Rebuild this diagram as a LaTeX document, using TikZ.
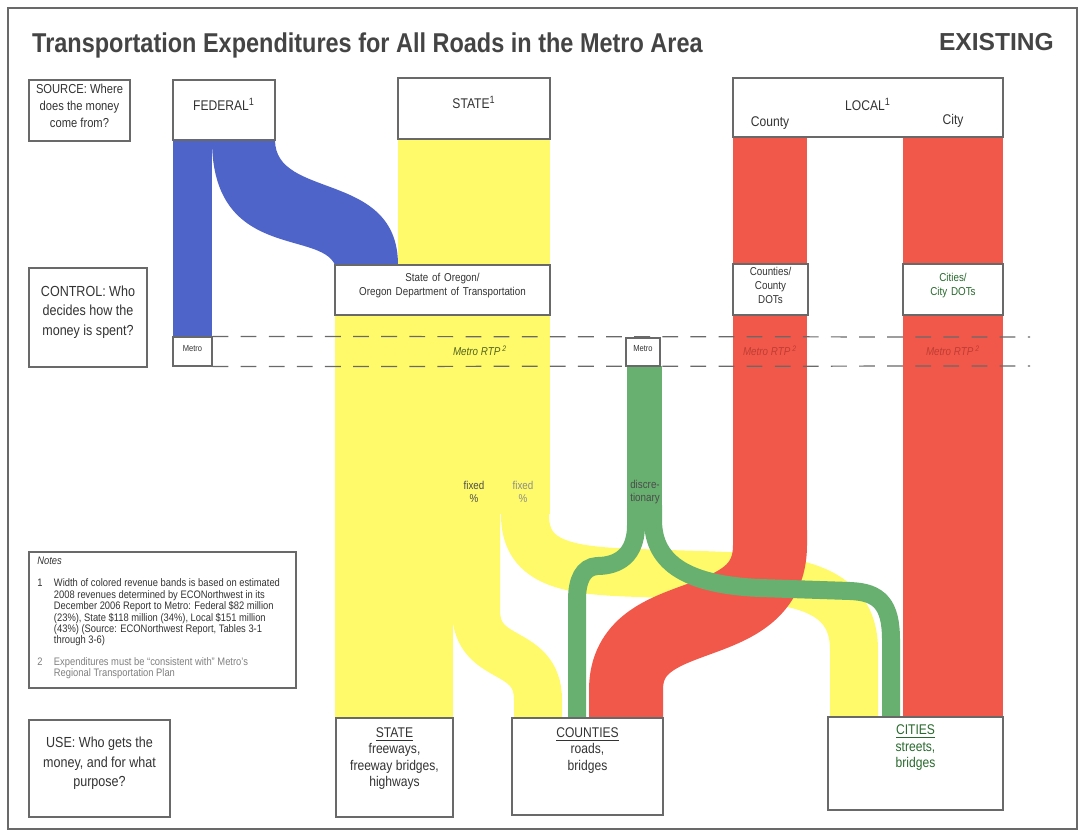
\documentclass[tikz,border=0pt]{standalone}
\usepackage{fontspec}
\setmainfont[FakeStretch=0.86]{Liberation Sans}
\newfontfamily\headfont[FakeStretch=0.862]{Liberation Sans}
\newfontfamily\widefont{Liberation Sans}
\usetikzlibrary{positioning,fit}

\definecolor{fedblue}{RGB}{78,100,200}
\definecolor{stateyel}{RGB}{255,250,105}
\definecolor{localred}{RGB}{242,88,74}
\definecolor{metrogreen}{RGB}{104,176,112}
\definecolor{boxgray}{RGB}{105,105,105}
\definecolor{titlegray}{RGB}{68,68,68}
\definecolor{citygreen}{RGB}{40,105,45}
\definecolor{rtpolive}{RGB}{85,100,30}
\definecolor{rtpred}{RGB}{190,62,52}

\begin{document}
\begin{tikzpicture}[x=0.02cm,y=-0.02cm,font=\fontsize{8}{10}\selectfont,text=black!80]
  \tikzstyle{box}=[draw=boxgray,fill=white,line width=0.6pt,inner sep=0pt,align=center]
  \tikzstyle{small}=[font=\fontsize{6.5}{7.8}\selectfont,align=center]
  \tikzstyle{tiny}=[font=\fontsize{5}{6}\selectfont]
  \tikzstyle{rtp}=[font=\fontsize{6.5}{8}\selectfont\itshape]
  \tikzstyle{rtpline}=[boxgray,line width=0.7pt,dash pattern=on 9pt off 7pt]
  \tikzstyle{usetext}=[inner sep=0pt,align=center,font=\fontsize{8}{9.4}\selectfont]

  \useasboundingbox (0,0) rectangle (1081,832);
  \draw[boxgray,line width=1.2pt] (8,8) rectangle (1077,829);

  \node[anchor=west,text=titlegray,font={\headfont\bfseries\fontsize{15.5}{17}\selectfont}] (title) at (26,45)
    {Transportation Expenditures for All Roads in the Metro Area};
  \node[anchor=east,text=titlegray,font={\widefont\bfseries\fontsize{14}{16}\selectfont}] (exist) at (1060,42) {EXISTING};

  % state
  \fill[stateyel] (398,139) rectangle (550,266);
  \fill[stateyel] (335,314) rectangle (550,514);
  \fill[stateyel] (335,514) rectangle (453,720);
  \draw[stateyel,line width=0.96cm] (476,505) -- (476,610) .. controls (476,665) and (538,645) .. (538,700) -- (538,720);
  \draw[stateyel,line width=0.96cm] (525,505) -- (525,515) .. controls (525,565) and (570,571) .. (640,573)
    .. controls (760,578) and (854,570) .. (854,650) -- (854,720);

  % local
  \fill[localred] (733,137) rectangle (807,545);
  \draw[localred,line width=1.48cm] (770,530) -- (770,545) .. controls (770,640) and (626,600) .. (626,690) -- (626,720);
  \fill[localred] (903,137) rectangle (1003,720);

  % metro
  \fill[metrogreen] (627,366) rectangle (662,525);
  \draw[metrogreen,line width=0.36cm] (636,505) -- (636,525) .. controls (636,562) and (610,566) .. (597,566)
    .. controls (583,567) and (577,580) .. (577,600) -- (577,720);
  \draw[metrogreen,line width=0.36cm] (653,505) -- (653,520) .. controls (653,565) and (690,585) .. (760,588)
    -- (850,591) .. controls (880,592) and (891,605) .. (891,640) -- (891,720);

  % federal
  \fill[fedblue] (173,140) rectangle (212,337);
  \fill[fedblue] (212,140) -- (275,140) .. controls (275,200) and (398,170) .. (398,265)
    -- (335,265) .. controls (320,230) and (212,260) .. (212,140) -- cycle;

  \node[box,fit={(173,337) (212,366)},tiny] (metroA) {Metro};
  \coordinate (rtptop) at (1030,337);
  \coordinate (rtpbot) at (1030,366);
  \draw[rtpline] (metroA.north east) -- (rtptop);
  \draw[rtpline] (metroA.south east) -- (rtpbot);

  \node[box,fit={(29,80) (130,141)},font=\fontsize{7.4}{9.8}\selectfont] (src) {SOURCE: Where\\does the money\\come from?};
  \node[box,fit={(173,80) (275,140)}] (fed) {FEDERAL\textsuperscript{1}};
  \node[box,fit={(398,78) (550,139)}] (st) {STATE\textsuperscript{1}};
  \node[box,fit={(733,78) (1003,137)}] (loc) {};
  \node at (868,104) (loclbl) {LOCAL\textsuperscript{1}};
  \node at (770,123) (cnty) {County};
  \node at (953,121) (city) {City};

  \node[box,fit={(29,268) (147,367)},font=\fontsize{8.3}{11.3}\selectfont] (ctrl) {CONTROL: Who\\decides how the\\money is spent?};
  \node[box,fit={(335,265) (550,315)},small] (odot) {State of Oregon/\\Oregon Department of Transportation};
  \node[box,fit={(733,264) (808,315)},small] (cdot) {Counties/\\County\\DOTs};
  \node[box,fit={(903,264) (1003,315)},small,text=citygreen] (ydot) {Cities/\\City DOTs};
  \node[box,fit={(626,338) (660,366)},tiny] (metroB) {Metro};

  \node[rtp,text=rtpolive] at (480,351) (rtpA) {Metro RTP\,\textsuperscript{2}};
  \node[rtp,text=rtpred] at (770,351) (rtpB) {Metro RTP\,\textsuperscript{2}};
  \node[rtp,text=rtpred] at (953,351) (rtpC) {Metro RTP\,\textsuperscript{2}};

  \node[small,text=black!70] at (474,492) (fixA) {fixed\\\%};
  \node[small,text=black!45] at (523,492) (fixB) {fixed\\\%};
  \node[small,text=black!70] at (645,492) (disc) {discre-\\tionary};

  \node[box,fit={(29,552) (296,688)}] (notes) {};
  \node[anchor=north west,inner sep=0pt,align=left,font=\fontsize{6.2}{6.4}\selectfont] at (37,557) (notetxt) {%
    \textit{Notes}\\[7pt]
    \begin{tabular}{@{}l@{\hspace{6.5pt}}l@{}}
      1 & Width of colored revenue bands is based on estimated\\
        & 2008 revenues determined by ECONorthwest in its\\
        & December 2006 Report to Metro: Federal \$82 million\\
        & (23\%), State \$118 million (34\%), Local \$151 million\\
        & (43\%) (Source: ECONorthwest Report, Tables 3-1\\
        & through 3-6)\\[6pt]
      \color{black!50}2 & \color{black!50}Expenditures must be ``consistent with'' Metro's\\
        & \color{black!50}Regional Transportation Plan
    \end{tabular}};

  \node[box,fit={(29,720) (170,817)},font=\fontsize{8.3}{11.3}\selectfont] (use) {USE: Who gets the\\money, and for what\\purpose?};
  \node[box,fit={(336,718) (453,817)}] (ustate) {};
  \node[box,fit={(512,718) (663,815)}] (ucnty) {};
  \node[box,fit={(828,717) (1003,810)}] (ucity) {};
  \node[usetext,below=5.5pt of ustate.north] (ustatetxt) {\underline{STATE}\\freeways,\\freeway bridges,\\highways};
  \node[usetext,below=5.5pt of ucnty.north] (ucntytxt) {\underline{COUNTIES}\\roads,\\bridges};
  \node[usetext,below=4.5pt of ucity.north,text=citygreen] (ucitytxt) {\underline{CITIES}\\streets,\\bridges};
\end{tikzpicture}
\end{document}
